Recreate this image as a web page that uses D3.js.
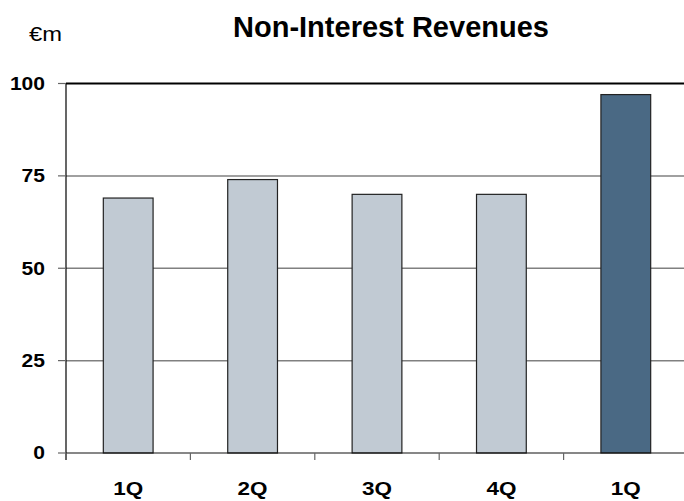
<!DOCTYPE html>
<html>
<head>
<meta charset="utf-8">
<script src="https://cdn.jsdelivr.net/npm/d3@7"></script>
<style>
  html, body { margin: 0; padding: 0; background: #fff; }
  svg { display: block; font-family: "Liberation Sans", Arial, sans-serif; }
</style>
</head>
<body>
<svg id="chart" width="684" height="501"></svg>
<script>
// Quarterly non-interest revenues, €m
const categories = ["1Q", "2Q", "3Q", "4Q", "1Q"];
const values = [69, 74, 70, 70, 97];
const highlight = [false, false, false, false, true];
const yTicks = [0, 25, 50, 75, 100];

const svg = d3.select("#chart");
const plotLeft = 66, plotRight = 688, plotTop = 83.5, plotBottom = 453;

const x = d3.scaleBand()
  .domain(d3.range(categories.length))
  .range([plotLeft, plotRight])
  .paddingInner(0.6)
  .paddingOuter(0.3);

const y = d3.scaleLinear().domain([0, 100]).range([plotBottom, plotTop]);

// Title and unit
svg.append("text")
  .attr("x", 391).attr("y", 37)
  .attr("text-anchor", "middle")
  .attr("font-weight", "bold")
  .attr("font-size", 29)
  .attr("textLength", 316)
  .attr("lengthAdjust", "spacingAndGlyphs")
  .attr("fill", "#000")
  .text("Non-Interest Revenues");

svg.append("text")
  .attr("x", 29).attr("y", 41)
  .attr("font-size", 21)
  .attr("textLength", 33)
  .attr("lengthAdjust", "spacingAndGlyphs")
  .attr("fill", "#000")
  .text("€m");

// Horizontal gridlines
svg.append("g").selectAll("line")
  .data(yTicks.filter(d => d > 0 && d < 100))
  .join("line")
  .attr("x1", plotLeft).attr("x2", 684)
  .attr("y1", d => y(d)).attr("y2", d => y(d))
  .attr("stroke", "#808080").attr("stroke-width", 1.5);

// Top frame line
svg.append("line")
  .attr("x1", plotLeft).attr("x2", 684)
  .attr("y1", y(100)).attr("y2", y(100))
  .attr("stroke", "#000").attr("stroke-width", 2);

// Bars
svg.append("g").selectAll("rect")
  .data(values)
  .join("rect")
  .attr("x", (d, i) => x(i))
  .attr("y", d => y(d))
  .attr("width", x.bandwidth())
  .attr("height", d => y(0) - y(d))
  .attr("fill", (d, i) => highlight[i] ? "#4A6984" : "#C1CAD3")
  .attr("stroke", "#222")
  .attr("stroke-width", 1.2);

// Y axis
const yAxis = svg.append("g");
yAxis.append("line")
  .attr("x1", plotLeft).attr("x2", plotLeft)
  .attr("y1", y(100)).attr("y2", plotBottom + 7)
  .attr("stroke", "#000").attr("stroke-width", 1.2);
yAxis.selectAll("line.tick")
  .data(yTicks)
  .join("line")
  .attr("class", "tick")
  .attr("x1", plotLeft - 8).attr("x2", plotLeft)
  .attr("y1", d => y(d)).attr("y2", d => y(d))
  .attr("stroke", "#666").attr("stroke-width", 1.2);
yAxis.selectAll("text")
  .data(yTicks)
  .join("text")
  .attr("x", 45)
  .attr("y", d => y(d))
  .attr("dy", "0.36em")
  .attr("text-anchor", "end")
  .attr("font-weight", "bold")
  .attr("font-size", 17.5)
  .attr("textLength", d => String(d).length * 11.7)
  .attr("lengthAdjust", "spacingAndGlyphs")
  .attr("fill", "#000")
  .text(d => d);

// X axis baseline and category separators
const xAxis = svg.append("g");
xAxis.append("line")
  .attr("x1", plotLeft).attr("x2", 684)
  .attr("y1", plotBottom).attr("y2", plotBottom)
  .attr("stroke", "#111").attr("stroke-width", 1.2);
const step = x.step();
const gap = (step - x.bandwidth()) / 2;
xAxis.selectAll("line.sep")
  .data(d3.range(categories.length))
  .join("line")
  .attr("class", "sep")
  .attr("x1", i => x(i) - gap).attr("x2", i => x(i) - gap)
  .attr("y1", plotBottom).attr("y2", plotBottom + 7)
  .attr("stroke", "#666").attr("stroke-width", 1.2);
xAxis.selectAll("text")
  .data(categories)
  .join("text")
  .attr("x", (d, i) => x(i) + x.bandwidth() / 2)
  .attr("y", 495)
  .attr("text-anchor", "middle")
  .attr("font-weight", "bold")
  .attr("font-size", 18.5)
  .attr("textLength", 30)
  .attr("lengthAdjust", "spacingAndGlyphs")
  .attr("fill", "#000")
  .text(d => d);
</script>
</body>
</html>
